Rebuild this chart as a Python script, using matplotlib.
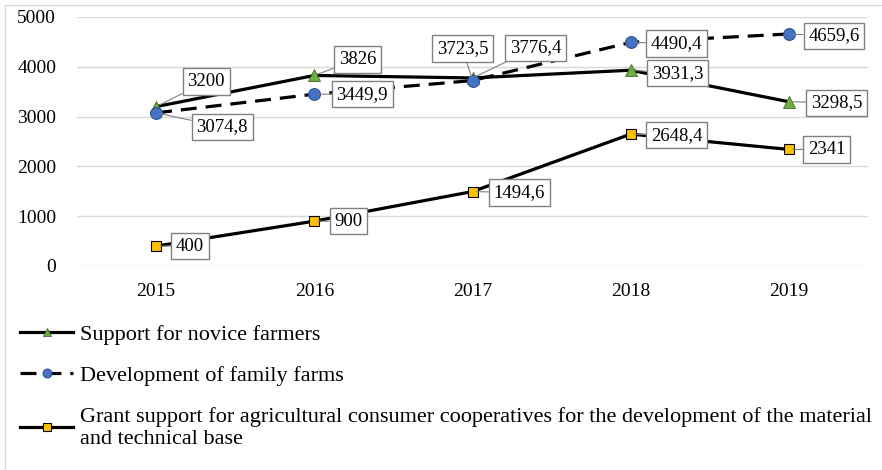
import matplotlib
matplotlib.use('Agg')
import matplotlib.pyplot as plt
from matplotlib.patches import Rectangle

plt.rcParams['font.family'] = ['Liberation Serif', 'DejaVu Serif']

years = ['2015', '2016', '2017', '2018', '2019']
novice = [3200, 3826, 3776.4, 3931.3, 3298.5]
family = [3074.8, 3449.9, 3723.5, 4490.4, 4659.6]
grants = [400, 900, 1494.6, 2648.4, 2341]

names = ['Support for novice farmers',
         'Development of family farms',
         'Grant support for agricultural consumer cooperatives for the development of the material\nand technical base']

# label offsets in pixels (box centre relative to point)
off_novice = [(50, 25), (43, 16), (63, 30), (47, -3), (48, -1)]
off_family = [(66, -14), (48, 0), (-10, 32), (46, -1), (45, -2)]
off_grants = [(34, 0), (34, 0), (47, -1), (46, -1), (38, 0)]

fig = plt.figure(figsize=(8.82, 4.70), dpi=100)
ax = fig.add_axes([77/882, (470-266)/470, 791/882, 249/470])

x = list(range(len(years)))
l1, = ax.plot(x, novice, color='black', lw=2.3, marker='^', ms=8,
              mfc='#70AD47', mec='#3d6b22', mew=0.6, zorder=3)
l2, = ax.plot(x, family, color='black', lw=2.3, ls=(0, (5, 2.8)), marker='o', ms=8.5,
              mfc='#4472C4', mec='#2f528f', mew=0.8, zorder=3)
l3, = ax.plot(x, grants, color='black', lw=2.3, marker='s', ms=7.5,
              mfc='#FFC000', mec='black', mew=0.8, zorder=3)


def fmt(v):
    s = ('%.1f' % v).rstrip('0').rstrip('.')
    return s.replace('.', ',')


for vals, offs in [(novice, off_novice), (family, off_family), (grants, off_grants)]:
    for xi, v, (dx, dy) in zip(x, vals, offs):
        ax.annotate(fmt(v), xy=(xi, v), xytext=(dx, dy), textcoords='offset pixels',
                    ha='center', va='center', fontsize=13.5, zorder=5,
                    bbox=dict(boxstyle='square,pad=0.25', fc='white', ec='#808080', lw=1),
                    arrowprops=dict(arrowstyle='-', color='#808080', lw=0.8,
                                    shrinkA=0, shrinkB=3))

ax.set_xlim(-0.5, 4.5)
ax.set_ylim(0, 5000)
ax.set_yticks([0, 1000, 2000, 3000, 4000, 5000])
ax.set_xticks(x)
ax.set_xticklabels(years)
ax.tick_params(length=0, labelsize=14)
ax.tick_params(axis='y', pad=15)
ax.tick_params(axis='x', pad=12)
ax.grid(axis='y', color='#d9d9d9', lw=1)
ax.set_axisbelow(True)
for s in ax.spines.values():
    s.set_visible(False)

leg = fig.legend([l1, l2, l3], names, loc='upper left', bbox_to_anchor=(20/882, 1 - 324/470),
                 frameon=False, fontsize=16, handlelength=2.4, handletextpad=0.3,
                 labelspacing=0.95, borderaxespad=0, borderpad=0, markerscale=0.75)

fig.patches.append(Rectangle((5/882, -0.1), 2, 465/470 + 0.1, transform=fig.transFigure,
                             fill=False, ec='#d9d9d9', lw=1))

fig.savefig('out.png', dpi=100)
